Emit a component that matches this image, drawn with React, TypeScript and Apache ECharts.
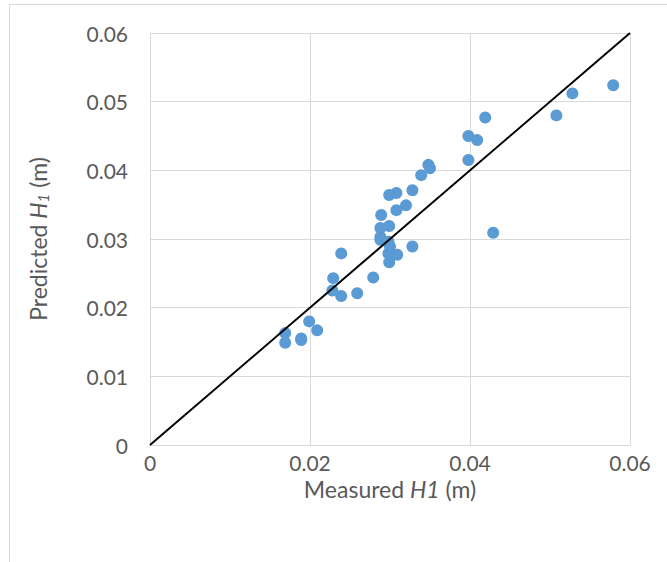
import React, { useEffect, useRef } from "react";
import * as echarts from "echarts";

const measured = [
  0.0169, 0.0169, 0.0189, 0.0189, 0.0199, 0.0209, 0.0229, 0.0228, 0.0239, 0.0239,
  0.0259, 0.0279, 0.0289, 0.0288, 0.0288, 0.0288, 0.0299, 0.0308, 0.0299, 0.0298,
  0.0300, 0.0298, 0.0309, 0.0299, 0.0320, 0.0308, 0.0328, 0.0328, 0.0339, 0.0348,
  0.0350, 0.0398, 0.0409, 0.0398, 0.0419, 0.0429, 0.0508, 0.0528, 0.0579,
];
const predicted = [
  0.0163, 0.0149, 0.0155, 0.0153, 0.0180, 0.0167, 0.0243, 0.0225, 0.0279, 0.0217,
  0.0221, 0.0244, 0.0335, 0.0316, 0.0303, 0.0299, 0.0364, 0.0367, 0.0319, 0.0296,
  0.0289, 0.0279, 0.0277, 0.0266, 0.0349, 0.0342, 0.0371, 0.0289, 0.0393, 0.0408,
  0.0403, 0.0450, 0.0444, 0.0415, 0.0477, 0.0309, 0.0480, 0.0512, 0.0524,
];
const lineX = [0, 0.06];
const lineY = [0, 0.06];
const ticks = ["0", "0.01", "0.02", "0.03", "0.04", "0.05", "0.06"];

export default function App() {
  const ref = useRef<HTMLDivElement>(null);
  useEffect(() => {
    if (!ref.current) return;
    const chart = echarts.init(ref.current, null, { renderer: "svg" });
    const font = "Lato";
    const labelColor = "#595959";
    chart.setOption({
      animation: false,
      textStyle: { fontFamily: font },
      graphic: [
        {
          type: "rect",
          shape: { x: 9.5, y: 4.5, width: 700, height: 600 },
          style: { fill: "none", stroke: "#d9d9d9", lineWidth: 1 },
          silent: true,
        },
      ],
      grid: { left: 150, top: 33, right: 37, bottom: 117 },
      xAxis: {
        type: "value",
        min: 0,
        max: 0.06,
        interval: 0.02,
        axisLine: { show: true, lineStyle: { color: "#d9d9d9", width: 1 } },
        axisTick: { show: false },
        splitLine: { show: true, lineStyle: { color: "#d9d9d9", width: 1 } },
        axisLabel: {
          color: labelColor,
          fontSize: 21,
          fontFamily: font,
          margin: 7,
          formatter: (v: number) => ticks[Math.round(v * 100)],
        },
        name: "Measured {i|H1} (m)",
        nameLocation: "middle",
        nameGap: 32,
        nameTextStyle: {
          color: labelColor,
          fontSize: 23,
          fontFamily: font,
          rich: { i: { fontStyle: "italic", fontSize: 23, color: labelColor, fontFamily: font } },
        },
      },
      yAxis: {
        type: "value",
        min: 0,
        max: 0.06,
        interval: 0.01,
        axisLine: { show: true, lineStyle: { color: "#d9d9d9", width: 1 } },
        axisTick: { show: false },
        splitLine: { show: true, lineStyle: { color: "#d9d9d9", width: 1 } },
        axisLabel: {
          color: labelColor,
          fontSize: 21,
          fontFamily: font,
          margin: 22,
          formatter: (v: number) => ticks[Math.round(v * 100)],
        },
        name: "Predicted {i|H}{sub|1} (m)",
        nameLocation: "middle",
        nameGap: 100,
        nameTextStyle: {
          color: labelColor,
          fontSize: 23,
          fontFamily: font,
          rich: {
            i: { fontStyle: "italic", fontSize: 23, color: labelColor, fontFamily: font },
            sub: {
              fontStyle: "italic",
              fontSize: 15,
              color: labelColor,
              fontFamily: font,
              verticalAlign: "bottom",
              padding: [10, 0, 0, 0],
            },
          },
        },
      },
      series: [
        {
          type: "scatter",
          symbol: "circle",
          symbolSize: 12,
          itemStyle: { color: "#5b9bd5", opacity: 1 },
          data: measured.map((m, i) => [m, predicted[i]]),
          z: 3,
        },
        {
          type: "line",
          symbol: "none",
          lineStyle: { color: "#000000", width: 2 },
          data: lineX.map((x, i) => [x, lineY[i]]),
          z: 4,
        },
      ],
    });
    return () => chart.dispose();
  }, []);
  return (
    <div
      ref={ref}
      style={{ position: "fixed", left: 0, top: 0, width: 667, height: 562, background: "#fff" }}
    />
  );
}
